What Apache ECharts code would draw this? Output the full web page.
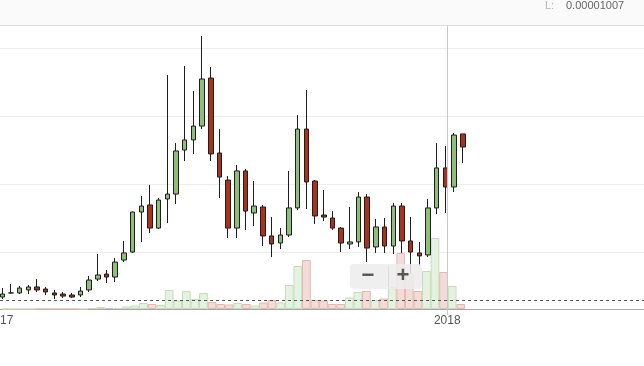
<!DOCTYPE html>
<html>
<head>
<meta charset="utf-8">
<script src="https://cdn.jsdelivr.net/npm/echarts@6/dist/echarts.min.js"></script>
<style>
html,body{margin:0;padding:0;background:#fff;}
#chart{width:644px;height:366px;}
</style>
</head>
<body>
<div id="chart"></div>
<script>
// Weekly candles (values in satoshi)
var dates = ['2017-01-06','2017-01-13','2017-01-20','2017-01-27','2017-02-03','2017-02-10','2017-02-17','2017-02-24',
 '2017-03-03','2017-03-10','2017-03-17','2017-03-24','2017-03-31','2017-04-07','2017-04-14','2017-04-21','2017-04-28',
 '2017-05-05','2017-05-12','2017-05-19','2017-05-26','2017-06-02','2017-06-09','2017-06-16','2017-06-23','2017-06-30',
 '2017-07-07','2017-07-14','2017-07-21','2017-07-28','2017-08-04','2017-08-11','2017-08-18','2017-08-25',
 '2017-09-01','2017-09-08','2017-09-15','2017-09-22','2017-09-29','2017-10-06','2017-10-13','2017-10-20','2017-10-27',
 '2017-11-03','2017-11-10','2017-11-17','2017-11-24','2017-12-01','2017-12-08','2017-12-15','2017-12-22','2017-12-29',
 '2018-01-05','2018-01-12'];
var opens  = [169,199,199,221,243,228,199,191,184,184,221,301,338,316,441,500,794,846,676,890,926,1250,1324,1426,1779,1228,1029,676,1096,787,831,618,566,625,824,1404,1022,772,750,676,559,574,904,537,684,544,838,581,493,478,824,1118,978,1368];
var closes = [191,199,235,243,221,206,184,176,169,213,294,331,316,426,493,794,838,676,882,926,1243,1324,1426,1772,1221,1051,676,1096,801,838,618,559,625,824,1404,1015,765,757,676,566,574,904,529,684,544,838,581,500,471,824,1118,978,1360,1272];
var lows   = [154,195,191,191,206,184,154,162,162,169,206,287,272,279,426,493,574,640,669,713,853,1169,1221,1404,1169,897,603,603,662,691,544,463,522,610,809,816,706,728,662,500,522,537,426,493,493,485,493,346,397,463,779,787,941,1154];
var highs  = [235,265,250,257,301,243,221,206,199,243,324,485,368,456,581,798,912,993,897,1801,1301,1868,1684,2088,1860,1404,1059,1140,1110,1022,846,757,676,1096,1507,1691,1029,956,801,684,831,941,926,743,750,860,860,757,574,890,1301,1279,1375,1368];
var volumes = [0,0,0,0,0,0,0,0,0,0,10,20,10,10,25,35,60,50,40,190,85,180,100,160,70,50,45,60,50,35,65,90,65,240,430,490,90,85,50,50,115,170,180,90,105,220,560,360,180,380,710,370,230,50];
var yearLabels = ['2017','2018'];
var lowLabel = 'L:';
var lowValue = '0.00001007';
var dashedLevel = 145;

var DAY = 864e5;
var xMin = Date.UTC(2017,0,1) - 21*DAY;
var xMax = xMin + 543*DAY;

var candleData = [], volData = [];
for (var i = 0; i < dates.length; i++) {
  var t = Date.parse(dates[i]);
  candleData.push([t, opens[i], closes[i], lows[i], highs[i]]);
  var up = closes[i] >= opens[i];
  volData.push({
    value: [t, volumes[i]],
    itemStyle: up ? {color:'#e6f2e1', borderColor:'#c4ddb9', borderWidth:1}
                  : {color:'#f3dbd7', borderColor:'#e2b9b1', borderWidth:1}
  });
}

var chart = echarts.init(document.getElementById('chart'), null, {renderer:'canvas'});
var xCommon = {type:'time', min:xMin, max:xMax};
chart.setOption({
  animation:false,
  useUTC:true,
  backgroundColor:'#fff',
  grid:[
    {left:-30, right:0, top:-20, bottom:46, outerBoundsMode:'none', containLabel:false},
    {left:-30, right:0, top:230, bottom:57, outerBoundsMode:'none', containLabel:false}
  ],
  xAxis:[
    Object.assign({gridIndex:0, show:false}, xCommon),
    Object.assign({gridIndex:1,
      axisLine:{show:true, lineStyle:{color:'#a8a8a8', width:1}},
      axisTick:{show:false},
      splitLine:{show:false},
      axisLabel:{
        color:'#555', fontSize:12, fontFamily:'Liberation Sans, Arial, sans-serif', margin:6,
        hideOverlap:false,
        formatter:function(v){
          var d = new Date(v);
          if (d.getUTCMonth()===0 && d.getUTCDate()===1) {
            var y = String(d.getUTCFullYear());
            return yearLabels.indexOf(y) >= 0 ? y : '';
          }
          return '';
        }
      }
    }, xCommon)
  ],
  yAxis:[
    {gridIndex:0, type:'value', min:0, max:2500, interval:500,
     axisLine:{show:false}, axisTick:{show:false}, axisLabel:{show:false},
     splitLine:{show:true, showMinLine:false, lineStyle:{color:'#eeeeee', width:1}}},
    {gridIndex:1, type:'value', min:0, max:790,
     axisLine:{show:false}, axisTick:{show:false}, axisLabel:{show:false}, splitLine:{show:false}}
  ],
  series:[
    {
      type:'bar', xAxisIndex:1, yAxisIndex:1, data:volData, barWidth:8.7, z:1,
      encode:{x:0,y:1}
    },
    {
      type:'candlestick', xAxisIndex:0, yAxisIndex:0, data:candleData,
      encode:{x:0, y:[1,2,3,4]},
      barWidth:5, z:3,
      itemStyle:{color:'#8fbd7c', color0:'#a9321d', borderColor:'#1e1e1e', borderColor0:'#1e1e1e', borderColorDoji:'#1e1e1e', borderWidth:1},
      markLine:{
        silent:true, symbol:['none','none'], z:6,
        label:{show:false},
        lineStyle:{color:'#555', type:[3,3], width:1},
        data:[{yAxis:dashedLevel}]
      }
    }
  ]
});

var px2018 = chart.convertToPixel({xAxisIndex:1}, Date.UTC(2018,0,1));
chart.setOption({
  graphic:[
    {type:'rect', id:'hdr', z:50, shape:{x:0,y:0,width:644,height:25}, style:{fill:'#fafafa'}},
    {type:'line', id:'hdrline', z:51, shape:{x1:0,y1:25.5,x2:644,y2:25.5}, style:{stroke:'#dddddd', lineWidth:1}},
    {type:'text', id:'lbl', z:52, x:545, y:6, style:{text:lowLabel, fill:'#b5b5b5', font:'11px "Liberation Sans", Arial, sans-serif', textVerticalAlign:'middle'}},
    {type:'text', id:'lval', z:52, x:566, y:6, style:{text:lowValue, fill:'#666', font:'11px "Liberation Sans", Arial, sans-serif', textVerticalAlign:'middle'}},
    {type:'line', id:'cross', z:20, shape:{x1:Math.round(px2018)+0.5, y1:26, x2:Math.round(px2018)+0.5, y2:315}, style:{stroke:'#c8c8c8', lineWidth:1}},
    {type:'group', id:'zoomctl', z:60, children:[
      {type:'rect', z:60, shape:{x:350,y:264,width:72,height:25,r:4}, style:{fill:'rgba(236,236,236,0.85)'}},
      {type:'line', z:61, shape:{x1:388.5,y1:266,x2:388.5,y2:287}, style:{stroke:'#dcdcdc', lineWidth:1}},
      {type:'text', z:62, x:368, y:276, style:{text:'\u2212', fill:'#555', font:'bold 22px "Liberation Sans", Arial, sans-serif', textAlign:'center', textVerticalAlign:'middle'}},
      {type:'text', z:62, x:403, y:276, style:{text:'+', fill:'#555', font:'bold 22px "Liberation Sans", Arial, sans-serif', textAlign:'center', textVerticalAlign:'middle'}}
    ]}
  ]
});
</script>
</body>
</html>
